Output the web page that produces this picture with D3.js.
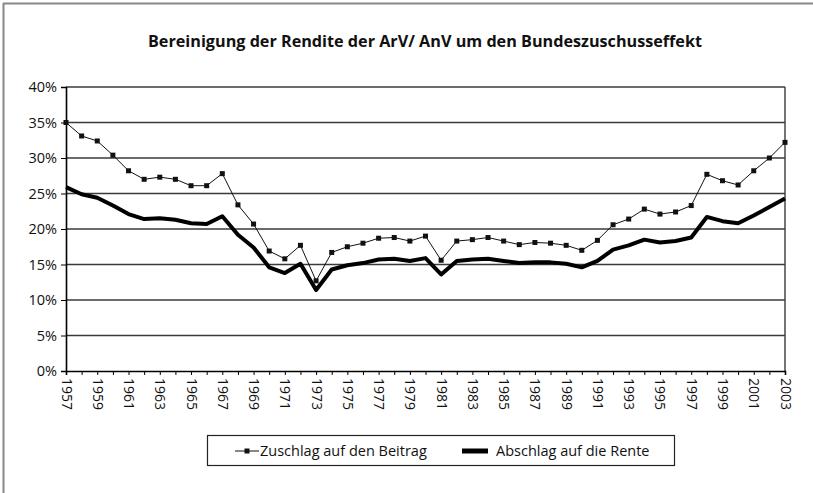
<!DOCTYPE html>
<html>
<head>
<meta charset="utf-8">
<script src="https://cdn.jsdelivr.net/npm/d3@7"></script>
<style>
  html, body { margin: 0; padding: 0; background: #fff; }
  svg { display: block; }
  text { font-family: "Open Sans", "Noto Sans", sans-serif; fill: #111; }
</style>
</head>
<body>
<svg id="chart" width="813" height="493"></svg>
<script>
const years = d3.range(1957, 2004);
const zuschlag = [
  35.0, 33.1, 32.4, 30.4, 28.2, 27.0, 27.3, 27.0, 26.1, 26.1,
  27.8, 23.4, 20.7, 16.9, 15.8, 17.7, 12.7, 16.7, 17.5, 18.0,
  18.7, 18.8, 18.3, 19.0, 15.6, 18.3, 18.5, 18.8, 18.3, 17.8,
  18.1, 18.0, 17.7, 17.0, 18.4, 20.6, 21.4, 22.8, 22.1, 22.4,
  23.3, 27.7, 26.8, 26.2, 28.2, 30.0, 32.2
];
const abschlag = [
  25.9, 24.9, 24.4, 23.3, 22.1, 21.4, 21.5, 21.3, 20.8, 20.7,
  21.8, 19.2, 17.4, 14.6, 13.8, 15.1, 11.4, 14.3, 14.9, 15.2,
  15.7, 15.8, 15.5, 15.9, 13.6, 15.5, 15.7, 15.8, 15.5, 15.2,
  15.3, 15.3, 15.1, 14.6, 15.5, 17.1, 17.7, 18.5, 18.1, 18.3,
  18.8, 21.7, 21.1, 20.8, 21.9, 23.1, 24.3
];
const yTicks = [0, 5, 10, 15, 20, 25, 30, 35, 40];
const xLabelYears = years.filter((y, i) => i % 2 === 0);
const title = "Bereinigung der Rendite der ArV/ AnV um den Bundeszuschusseffekt";
const seriesNames = ["Zuschlag auf den Beitrag", "Abschlag auf die Rente"];

const svg = d3.select("#chart");
const L = 66, R = 785, T = 87, B = 371;

// outer frame (only top/left visible)
svg.append("line").attr("x1", 3).attr("x2", 813).attr("y1", 3.5).attr("y2", 3.5)
  .attr("stroke", "#888").attr("stroke-width", 2);
svg.append("line").attr("x1", 3.5).attr("x2", 3.5).attr("y1", 3).attr("y2", 493)
  .attr("stroke", "#888").attr("stroke-width", 2);

const x = d3.scalePoint().domain(years).range([L, R]);
const y = d3.scaleLinear().domain([0, 40]).range([B, T]);

// title
svg.append("text").attr("x", 425).attr("y", 47).attr("text-anchor", "middle")
  .attr("font-size", 16).attr("font-weight", "bold")
  .attr("font-family", "'Liberation Sans Narrow', 'DejaVu Sans Condensed', 'Open Sans', sans-serif")
  .attr("textLength", 554).attr("lengthAdjust", "spacingAndGlyphs")
  .text(title);

// gridlines
svg.append("g").selectAll("line").data(yTicks.filter(d => d > 0)).join("line")
  .attr("x1", L).attr("x2", R).attr("y1", d => y(d)).attr("y2", d => y(d))
  .attr("stroke", "#3a3a3a").attr("stroke-width", 1.4);
// right border
svg.append("line").attr("x1", R).attr("x2", R).attr("y1", T).attr("y2", B)
  .attr("stroke", "#3a3a3a").attr("stroke-width", 1.4);

// y axis
const yAxis = d3.axisLeft(y).tickValues(yTicks).tickSize(5).tickPadding(4)
  .tickFormat(d => d + "%");
const gy = svg.append("g").attr("transform", `translate(${L},0)`).call(yAxis);
gy.select(".domain").attr("stroke", "#000").attr("stroke-width", 1.6);
gy.selectAll(".tick line").attr("stroke", "#000");
gy.selectAll(".tick text").attr("font-size", 14.5).attr("fill", "#111")
  .attr("font-family", "'Open Sans', sans-serif");

// x axis
const xAxis = d3.axisBottom(x).tickSize(4).tickFormat(d => xLabelYears.includes(d) ? d : "");
const gx = svg.append("g").attr("transform", `translate(0,${B})`).call(xAxis);
gx.select(".domain").attr("stroke", "#000").attr("stroke-width", 1.6);
gx.selectAll(".tick line").attr("stroke", "#000");
gx.selectAll(".tick text")
  .attr("font-size", 14).attr("fill", "#111")
  .attr("font-family", "'Open Sans', sans-serif")
  .attr("text-anchor", "start")
  .attr("dy", null)
  .attr("transform", "translate(-5,7) rotate(90)")
  .attr("x", 0).attr("y", 0);

// lines
const lineGen = d3.line().x((d, i) => x(years[i])).y(d => y(d));
svg.append("path").datum(abschlag).attr("d", lineGen)
  .attr("fill", "none").attr("stroke", "#000").attr("stroke-width", 4)
  .attr("stroke-linejoin", "round");
svg.append("path").datum(zuschlag).attr("d", lineGen)
  .attr("fill", "none").attr("stroke", "#111").attr("stroke-width", 1);
svg.append("g").selectAll("rect").data(zuschlag).join("rect")
  .attr("x", (d, i) => x(years[i]) - 2.5).attr("y", d => y(d) - 2.5)
  .attr("width", 5).attr("height", 5).attr("fill", "#111");

// legend
const lg = svg.append("g");
lg.append("rect").attr("x", 207.5).attr("y", 435.5).attr("width", 467).attr("height", 30)
  .attr("fill", "#fff").attr("stroke", "#222").attr("stroke-width", 1.2);
lg.append("line").attr("x1", 235).attr("x2", 259).attr("y1", 451).attr("y2", 451)
  .attr("stroke", "#111").attr("stroke-width", 1);
lg.append("rect").attr("x", 244.5).attr("y", 448.5).attr("width", 5).attr("height", 5).attr("fill", "#111");
lg.append("text").attr("x", 260).attr("y", 456).attr("font-size", 14.5).text(seriesNames[0]);
lg.append("line").attr("x1", 462).attr("x2", 488).attr("y1", 451).attr("y2", 451)
  .attr("stroke", "#000").attr("stroke-width", 5);
lg.append("text").attr("x", 496).attr("y", 456).attr("font-size", 14.5).text(seriesNames[1]);
</script>
</body>
</html>
